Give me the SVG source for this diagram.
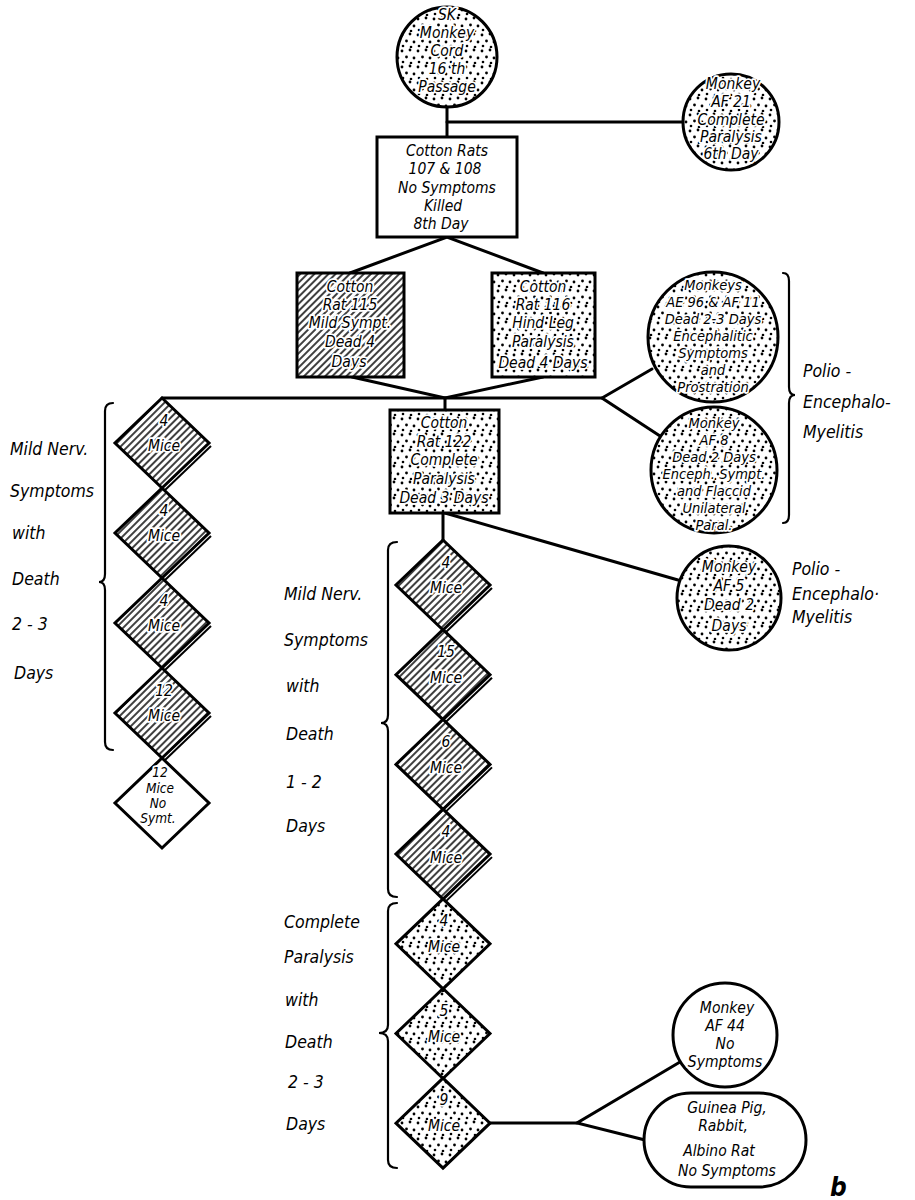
<svg xmlns="http://www.w3.org/2000/svg" width="915" height="1200" viewBox="0 0 915 1200">
<style>
.sh{stroke:#000;stroke-width:3;}
.w{fill:#fff;}
.d{fill:url(#dots);}
.h{fill:url(#hatch);}
.c{stroke:#000;stroke-width:3;fill:none;stroke-linecap:round;}
.br{stroke:#000;stroke-width:2.2;fill:none;stroke-linecap:round;}
.edge{stroke:#000;stroke-width:2;fill:none;}
text{font-family:"DejaVu Sans Condensed","Liberation Sans",sans-serif;font-style:italic;fill:#000;}
.t{font-size:15.5px;text-anchor:middle;stroke:#fff;stroke-width:3.5px;paint-order:stroke;stroke-linejoin:round;}
.m{font-size:14.5px;}
.s{font-size:13.5px;}
.lab{font-size:17.5px;}
</style>
<defs>
<pattern id="hatch" width="5" height="5" patternUnits="userSpaceOnUse" patternTransform="rotate(45)">
<rect width="5" height="5" fill="#fff"/>
<line x1="1" y1="0" x2="1" y2="5" stroke="#000" stroke-width="1.5"/>
</pattern>
<pattern id="dots" width="16" height="16" patternUnits="userSpaceOnUse">
<rect width="16" height="16" fill="#fff"/>
<circle cx="2" cy="3" r="1.4" fill="#000"/>
<circle cx="10" cy="2" r="1.4" fill="#000"/>
<circle cx="6.5" cy="9" r="1.4" fill="#000"/>
<circle cx="14" cy="10" r="1.4" fill="#000"/>
<circle cx="3" cy="14" r="1.3" fill="#000"/>
<circle cx="11" cy="15" r="1.3" fill="#000"/>
</pattern>
</defs>
<rect width="915" height="1200" fill="#fff"/>

<g id="connectors">
<line class="c" x1="447" y1="107" x2="447" y2="137"/>
<line class="c" x1="447" y1="122" x2="683" y2="122"/>
<polyline class="c" points="350,273 447,237 543,273"/>
<polyline class="c" points="352,377 445,398 543,377"/>
<line class="c" x1="162" y1="398" x2="602" y2="398"/>
<line class="c" x1="445" y1="398" x2="445" y2="410"/>
<polyline class="c" points="652,369 602,398 660,436"/>
<line class="c" x1="443" y1="513" x2="443" y2="540"/>
<line class="c" x1="445" y1="513" x2="678" y2="580"/>
<line class="c" x1="489" y1="1123" x2="577" y2="1123"/>
<polyline class="c" points="680,1062 577,1123 645,1140"/>
</g>

<g id="braces">
<path class="br" d="M113,403 Q105,403 105,411 L105,574 Q105,582 99,582 Q105,582 105,590 L105,742 Q105,750 113,750"/>
<path class="br" d="M783,273 Q789,273 789,281 L789,387 Q789,395 795,395 Q789,395 789,403 L789,515 Q789,523 783,523"/>
<path class="br" d="M397,542 Q388,542 388,550 L388,715 Q388,723 381,723 Q388,723 388,731 L388,889 Q388,897 397,897"/>
<path class="br" d="M397,903 Q388,903 388,911 L388,1025 Q388,1033 379,1033 Q388,1033 388,1041 L388,1160 Q388,1168 397,1168"/>
</g>

<g id="sk">
<circle class="sh d" cx="447" cy="57" r="50"/>
<text class="t"><tspan x="447" y="20">SK</tspan><tspan x="447" y="38">Monkey</tspan><tspan x="447" y="56">Cord</tspan><tspan x="447" y="74">16 th</tspan><tspan x="447" y="92">Passage</tspan></text>
</g>

<g id="af21">
<circle class="sh d" cx="731" cy="122" r="48"/>
<text class="t"><tspan x="733" y="89">Monkey</tspan><tspan x="731" y="107">AF 21</tspan><tspan x="731" y="125">Complete</tspan><tspan x="731" y="142">Paralysis</tspan><tspan x="731" y="159">6th Day</tspan></text>
</g>

<g id="rats107">
<rect class="sh w" x="377" y="137" width="140" height="100"/>
<text class="t"><tspan x="447" y="156">Cotton Rats</tspan><tspan x="445" y="174">107 &amp; 108</tspan><tspan x="447" y="193">No Symptoms</tspan><tspan x="443" y="211">Killed</tspan><tspan x="441" y="229">8th Day</tspan></text>
</g>

<g id="rat115">
<rect class="sh h" x="297" y="273" width="107" height="104"/>
<text class="t"><tspan x="350" y="292">Cotton</tspan><tspan x="350" y="310">Rat 115</tspan><tspan x="350" y="328">Mild Sympt.</tspan><tspan x="350" y="347">Dead 4</tspan><tspan x="349" y="367">Days</tspan></text>
</g>

<g id="rat116">
<rect class="sh d" x="492" y="273" width="103" height="104"/>
<text class="t"><tspan x="543" y="292">Cotton</tspan><tspan x="543" y="310">Rat 116</tspan><tspan x="543" y="328">Hind Leg</tspan><tspan x="543" y="347">Paralysis</tspan><tspan x="543" y="368">Dead 4 Days</tspan></text>
</g>

<g id="rat122">
<rect class="sh d" x="390" y="410" width="109" height="103"/>
<text class="t"><tspan x="444" y="428">Cotton</tspan><tspan x="444" y="447">Rat 122</tspan><tspan x="444" y="465">Complete</tspan><tspan x="444" y="484">Paralysis</tspan><tspan x="444" y="503">Dead 3 Days</tspan></text>
</g>

<g id="ae96">
<circle class="sh d" cx="713" cy="337" r="65"/>
<text class="t m"><tspan x="713" y="290">Monkeys</tspan><tspan x="713" y="307">AE 96 &amp; AF 11</tspan><tspan x="713" y="324">Dead 2-3 Days</tspan><tspan x="713" y="341">Encephalitic</tspan><tspan x="713" y="358">Symptoms</tspan><tspan x="713" y="375">and</tspan><tspan x="713" y="392">Prostration</tspan></text>
</g>

<g id="af8">
<circle class="sh d" cx="714" cy="470" r="63"/>
<text class="t m"><tspan x="714" y="428">Monkey</tspan><tspan x="714" y="445">AF 8</tspan><tspan x="714" y="462">Dead 2 Days</tspan><tspan x="714" y="479">Enceph. Sympt.</tspan><tspan x="714" y="496">and Flaccid</tspan><tspan x="714" y="513">Unilateral</tspan><tspan x="714" y="530">Paral.</tspan></text>
</g>

<g id="af5">
<circle class="sh d" cx="729" cy="598" r="52"/>
<text class="t"><tspan x="729" y="572">Monkey</tspan><tspan x="729" y="591">AF 5</tspan><tspan x="729" y="610">Dead 2</tspan><tspan x="729" y="631">Days</tspan></text>
</g>

<g id="af44">
<circle class="sh w" cx="725" cy="1035" r="52"/>
<text class="t"><tspan x="727" y="1013">Monkey</tspan><tspan x="725" y="1031">AF 44</tspan><tspan x="725" y="1049">No</tspan><tspan x="725" y="1067">Symptoms</tspan></text>
</g>

<g id="guinea">
<rect class="sh w" x="644" y="1093" width="162" height="94" rx="47"/>
<text class="t"><tspan x="727" y="1113">Guinea Pig,</tspan><tspan x="723" y="1131">Rabbit,</tspan><tspan x="719" y="1156">Albino  Rat</tspan><tspan x="727" y="1176">No Symptoms</tspan></text>
</g>

<g id="l1">
<polygon class="sh h" points="162,398 209,443 162,488 115,443"/>
<polyline class="edge" points="211,446 164,491"/>
<text class="t"><tspan x="164" y="426">4</tspan><tspan x="164" y="451">Mice</tspan></text>
</g>
<g id="l2">
<polygon class="sh h" points="162,488 209,533 162,578 115,533"/>
<polyline class="edge" points="211,536 164,581"/>
<text class="t"><tspan x="164" y="516">4</tspan><tspan x="164" y="541">Mice</tspan></text>
</g>
<g id="l3">
<polygon class="sh h" points="162,578 209,623 162,668 115,623"/>
<polyline class="edge" points="211,626 164,671"/>
<text class="t"><tspan x="164" y="606">4</tspan><tspan x="164" y="631">Mice</tspan></text>
</g>
<g id="l4">
<polygon class="sh h" points="162,668 209,713 162,758 115,713"/>
<polyline class="edge" points="211,716 164,761"/>
<text class="t"><tspan x="164" y="696">12</tspan><tspan x="164" y="721">Mice</tspan></text>
</g>
<g id="l5">
<polygon class="sh w" points="162,758 209,803 162,848 115,803"/>
<text class="t s"><tspan x="160" y="777">12</tspan><tspan x="160" y="793">Mice</tspan><tspan x="158" y="808">No</tspan><tspan x="158" y="823">Symt.</tspan></text>
</g>

<g id="m1">
<polygon class="sh h" points="443,540 490,585 443,630 396,585"/>
<polyline class="edge" points="492,588 445,633"/>
<text class="t"><tspan x="446" y="568">4</tspan><tspan x="446" y="593">Mice</tspan></text>
</g>
<g id="m2">
<polygon class="sh h" points="443,629.7 490,674.7 443,719.7 396,674.7"/>
<polyline class="edge" points="492,677.7 445,722.7"/>
<text class="t"><tspan x="446" y="657">15</tspan><tspan x="446" y="683">Mice</tspan></text>
</g>
<g id="m3">
<polygon class="sh h" points="443,719.4 490,764.4 443,809.4 396,764.4"/>
<polyline class="edge" points="492,767.4 445,812.4"/>
<text class="t"><tspan x="446" y="747">6</tspan><tspan x="446" y="773">Mice</tspan></text>
</g>
<g id="m4">
<polygon class="sh h" points="443,809.1 490,854.1 443,899.1 396,854.1"/>
<polyline class="edge" points="492,857.1 445,902.1"/>
<text class="t"><tspan x="446" y="837">4</tspan><tspan x="446" y="863">Mice</tspan></text>
</g>
<g id="m5">
<polygon class="sh d" points="443,898.8 490,943.8 443,988.8 396,943.8"/>
<text class="t"><tspan x="444" y="926">4</tspan><tspan x="444" y="952">Mice</tspan></text>
</g>
<g id="m6">
<polygon class="sh d" points="443,988.5 490,1033.5 443,1078.5 396,1033.5"/>
<text class="t"><tspan x="444" y="1016">5</tspan><tspan x="444" y="1042">Mice</tspan></text>
</g>
<g id="m7">
<polygon class="sh d" points="443,1078.2 490,1123.2 443,1168.2 396,1123.2"/>
<text class="t"><tspan x="444" y="1105">9</tspan><tspan x="444" y="1131">Mice</tspan></text>
</g>

<g id="labels">
<text class="lab"><tspan x="10" y="455">Mild Nerv.</tspan><tspan x="10" y="497">Symptoms</tspan><tspan x="12" y="539">with</tspan><tspan x="12" y="585">Death</tspan><tspan x="12" y="630">2 - 3</tspan><tspan x="14" y="679">Days</tspan></text>
<text class="lab"><tspan x="284" y="600">Mild Nerv.</tspan><tspan x="284" y="646">Symptoms</tspan><tspan x="286" y="692">with</tspan><tspan x="286" y="740">Death</tspan><tspan x="286" y="788">1 - 2</tspan><tspan x="286" y="832">Days</tspan></text>
<text class="lab"><tspan x="284" y="928">Complete</tspan><tspan x="284" y="963">Paralysis</tspan><tspan x="285" y="1006">with</tspan><tspan x="285" y="1048">Death</tspan><tspan x="288" y="1088">2 - 3</tspan><tspan x="286" y="1130">Days</tspan></text>
<text class="lab"><tspan x="803" y="377">Polio -</tspan><tspan x="803" y="408">Encephalo-</tspan><tspan x="803" y="438">Myelitis</tspan></text>
<text class="lab"><tspan x="792" y="575">Polio -</tspan><tspan x="792" y="600">Encephalo·</tspan><tspan x="792" y="623">Myelitis</tspan></text>
<text x="830" y="1196" style="font-size:26px;font-weight:bold;">b</text>
</g>
</svg>
